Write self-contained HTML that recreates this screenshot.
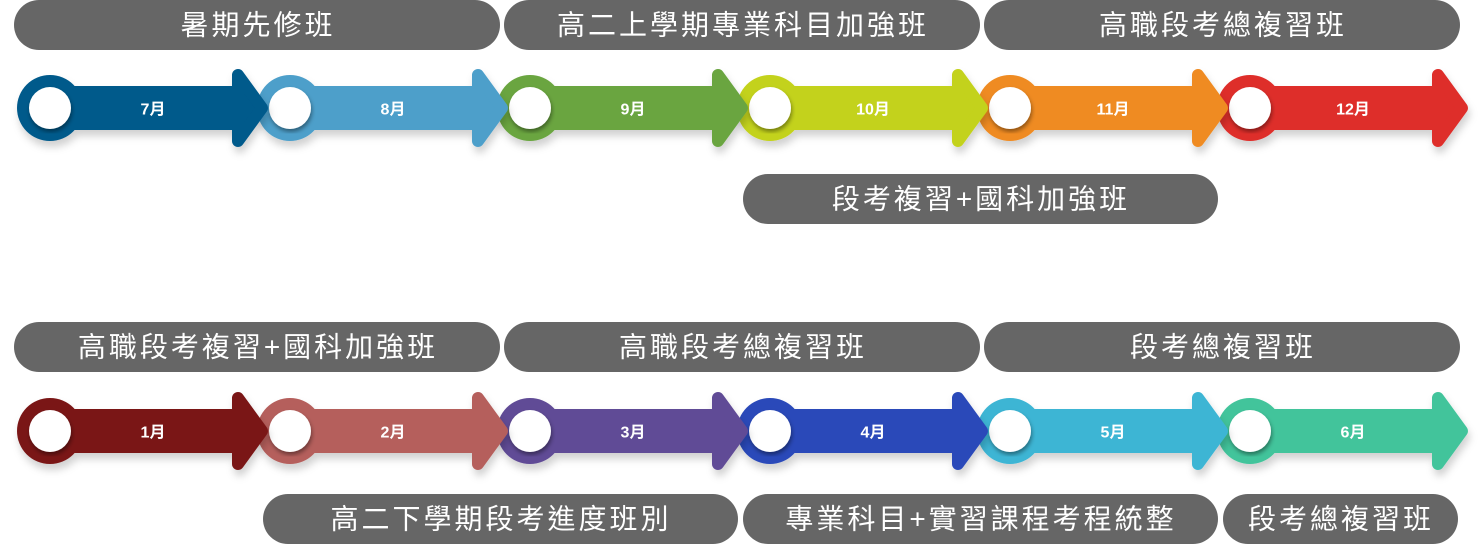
<!DOCTYPE html>
<html><head><meta charset="utf-8"><style>
body{margin:0;background:#fff;width:1480px;height:545px;overflow:hidden}
svg text{font-family:"Liberation Sans","Noto Sans CJK TC",sans-serif}
.p{fill:#666}
.pt{fill:#fff;font-size:28px;text-anchor:middle;dominant-baseline:central;letter-spacing:3px}
.m{fill:#fff;font-size:16px;font-weight:bold;text-anchor:middle;dominant-baseline:central}
</style></head><body>
<svg width="1480" height="545" xmlns="http://www.w3.org/2000/svg">
<defs><filter id="s" x="-10%" y="-20%" width="130%" height="160%"><feDropShadow dx="2" dy="6" stdDeviation="4" flood-color="#000" flood-opacity="0.18"/></filter>
<filter id="w"><feDropShadow dx="1" dy="3" stdDeviation="2" flood-color="#000" flood-opacity="0.4"/></filter></defs>
<rect class="p" x="14" y="0" width="486" height="50" rx="25"/><text class="pt" x="258" y="25">暑期先修班</text>
<rect class="p" x="504" y="0" width="476" height="50" rx="25"/><text class="pt" x="743" y="25">高二上學期專業科目加強班</text>
<rect class="p" x="984" y="0" width="476" height="50" rx="25"/><text class="pt" x="1223" y="25">高職段考總複習班</text>
<rect class="p" x="743" y="174" width="475" height="50" rx="25"/><text class="pt" x="981" y="199">段考複習+國科加強班</text>
<rect class="p" x="14" y="322" width="486" height="50" rx="25"/><text class="pt" x="258" y="347">高職段考複習+國科加強班</text>
<rect class="p" x="504" y="322" width="476" height="50" rx="25"/><text class="pt" x="743" y="347">高職段考總複習班</text>
<rect class="p" x="984" y="322" width="476" height="50" rx="25"/><text class="pt" x="1223" y="347">段考總複習班</text>
<rect class="p" x="263" y="494" width="475" height="50" rx="25"/><text class="pt" x="501" y="519">高二下學期段考進度班別</text>
<rect class="p" x="743" y="494" width="475" height="50" rx="25"/><text class="pt" x="981" y="519">專業科目+實習課程考程統整</text>
<rect class="p" x="1223" y="494" width="235" height="50" rx="25"/><text class="pt" x="1341" y="519">段考總複習班</text>
<g id="segs"></g>
</svg>
<script>
var segs=document.getElementById('segs');
function seg(x0,cy,c,l){
 var cx=x0+35;
 return '<g filter="url(#s)"><circle cx="'+cx+'" cy="'+cy+'" r="33" fill="'+c+'"/>'+
 '<rect x="'+cx+'" y="'+(cy-22)+'" width="'+(x0+222-cx)+'" height="44" fill="'+c+'"/>'+
 '<polygon points="'+(x0+223)+','+(cy-33)+' '+(x0+247)+','+cy+' '+(x0+223)+','+(cy+33)+'" fill="'+c+'" stroke="'+c+'" stroke-width="12" stroke-linejoin="round"/></g>'+
 '<circle cx="'+cx+'" cy="'+cy+'" r="21" fill="#fff" filter="url(#w)"/>'+
 '<text class="m" x="'+(x0+138)+'" y="'+(cy+2)+'">'+l+'</text>';
}
var r1=[['#015a8b','7月'],['#4d9fca','8月'],['#6aa541','9月'],['#c3d21a','10月'],['#ef8b22','11月'],['#de2d2a','12月']];
var r2=[['#7a1515','1月'],['#b55e5b','2月'],['#614b96','3月'],['#2a4ab9','4月'],['#3cb5d4','5月'],['#42c49b','6月']];
var h='';
for(var i=5;i>=0;i--){h+=seg(15+240*i,108,r1[i][0],r1[i][1]);}
for(var i=5;i>=0;i--){h+=seg(15+240*i,431,r2[i][0],r2[i][1]);}
segs.innerHTML=h;
</script>
</body></html>
